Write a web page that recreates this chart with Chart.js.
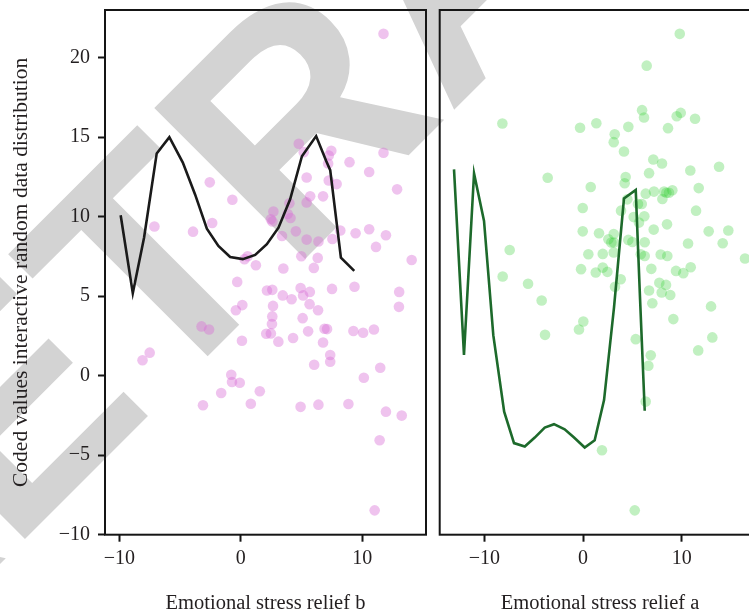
<!DOCTYPE html>
<html>
<head>
<meta charset="utf-8">
<script src="https://cdn.jsdelivr.net/npm/chart.js@4.4.0/dist/chart.umd.min.js"></script>
<style>
  html, body { margin: 0; padding: 0; background: #fff; }
  body { width: 749px; height: 616px; overflow: hidden; position: relative; }
  #wm { position: absolute; left: 0; top: 0; }
  #boxB { position: absolute; left: 0; top: 0; }
  #boxA { position: absolute; left: 434px; top: 0; }
</style>
</head>
<body>
<svg id="wm" width="749" height="616">
  <text x="-148" y="712" transform="rotate(-45 -148 712)" font-family="Liberation Sans, Arial, sans-serif" font-weight="bold" font-size="310" fill="#d3d3d3">RETRACTED</text>
</svg>
<div id="boxB"><canvas id="chartB" width="432" height="616"></canvas></div>
<div id="boxA"><canvas id="chartA" width="340" height="616"></canvas></div>
<script>
// 축 눈금
const yTicks = [-10, -5, 0, 5, 10, 15, 20];
const xTicks = [-10, 0, 10];

// panel b: 선
const lineBX = [-9.9, -8.9, -7.97, -6.93, -5.89, -4.78, -3.77, -2.8, -1.85, -0.88, 0.16, 1.18, 2.14, 3.1, 4.06, 5.03, 6.2, 7.03, 7.36, 8.24, 9.34];
const lineBY = [10.09, 5.19, 8.69, 13.98, 15.0, 13.4, 11.4, 9.25, 8.16, 7.47, 7.33, 7.6, 8.27, 9.31, 11.09, 13.8, 15.07, 13.5, 12.93, 7.43, 6.59];

// panel b: 점
const dotBX = [11.75, -7.12, -2.56, -3.94, -2.36, -0.7, 4.77, 5.18, 7.45, 7.24, 7.19, 8.95, 11.75, 10.57, 12.87,
  5.42, 7.89, 7.24, 5.71, 5.42, 6.77, 4.0, 2.68, 2.47, 2.6, 3.86, 4.09, 8.19, 9.45, 10.57, 11.95, 4.53, 3.39,
  5.42, 6.39, 7.54, 11.13, 14.07, 0.3, 0.56, 1.24, 3.5, 4.98, 6.33, 6.01, -0.3, 9.36, 7.51, 13.04, 2.15, 2.59,
  3.45, 4.18, 4.92, 5.13, 5.68, 5.66, 6.36, 2.65, 13.02, 0.12, -0.41, 2.59, 5.09, 2.56, -3.24, -2.62, 5.54,
  6.89, 7.1, 9.27, 10.07, 10.96, 2.09, 2.47, 0.09, 3.09, 4.3, 6.77, -8.1, -7.51, 7.36, 7.36, 6.04, 11.48,
  -0.79, -0.73, -0.09, 10.13, -1.62, 1.56, -3.12, 0.82, 4.92, 6.39, 8.86, 11.95, 13.25, 11.43, 11.02];
const dotBY = [21.5, 9.38, 12.16, 9.06, 9.6, 11.07, 14.59, 14.06, 14.15, 13.85, 13.35, 13.43, 14.02, 12.81, 11.72,
  12.47, 12.05, 12.28, 11.28, 10.9, 11.28, 10.84, 10.32, 9.84, 9.7, 10.17, 9.92, 9.13, 8.96, 9.21, 8.83, 9.08, 8.79,
  8.56, 8.44, 8.6, 8.1, 7.28, 7.33, 7.51, 6.95, 6.74, 7.51, 7.41, 6.78, 5.9, 5.59, 5.46, 5.27, 5.36, 5.4,
  5.05, 4.81, 5.52, 5.05, 5.27, 4.5, 4.12, 4.39, 4.33, 4.44, 4.12, 3.73, 3.62, 3.25, 3.1, 2.91, 2.79,
  2.95, 2.93, 2.81, 2.7, 2.91, 2.64, 2.66, 2.2, 2.14, 2.37, 2.09, 0.97, 1.45, 1.3, 0.88, 0.69, 0.5,
  0.06, -0.4, -0.44, -0.13, -1.09, -0.98, -1.86, -1.76, -1.96, -1.82, -1.78, -2.26, -2.51, -4.06, -8.47];

// panel a: 선
const lineAX = [-13.07, -12.06, -11.04, -10.03, -9.09, -7.99, -6.99, -5.9, -4.89, -3.88, -2.94, -1.86, -0.91, 0.17, 1.18, 2.13, 3.14, 4.15, 5.34, 5.78, 6.25];
const lineAY = [12.98, 1.3, 12.72, 9.73, 2.55, -2.26, -4.24, -4.45, -3.89, -3.26, -3.05, -3.37, -3.89, -4.52, -4.06, -1.53, 4.3, 11.14, 11.68, 4.8, -2.2];

// panel a: 점
const dotAX = [9.8, 6.45, 5.98, 6.18, 9.49, 9.9, 11.35, -8.17, -0.3, 1.35, 4.59, 8.61, 3.21, 3.11, 4.15, 7.12, 8.0,
  13.78, 10.87, 6.69, -3.58, 4.32, 4.22, 0.78, 11.72, 6.35, 7.19, 8.21, 8.44, 9.05, 8.71, 8.04, 4.49, 5.57, 5.95,
  -0.03, 3.85, 11.45, 5.13, 6.21, 5.67, 8.51, -0.03, 1.62, 7.16, 12.73, 14.72, 3.11, 2.57, 2.87, 3.14, 4.59, 5.0,
  6.25, 10.64, 14.15, 0.54, 2.0, 3.11, 5.85, 6.25, 7.87, 8.54, 16.41, -7.43, -8.14, -5.57, -4.19, -0.2, 1.29, 2.0,
  2.47, 6.92, 9.42, 10.16, 10.91, 3.24, 3.82, 7.73, 8.41, 7.97, 8.84, 6.69, 7.02, 12.97, 9.15, 13.1, 11.67, 0.03,
  -0.41, -3.85, 5.34, 6.86, 6.62, 6.35, 1.92, 5.24];
const dotAY = [21.5, 19.5, 16.7, 16.24, 16.32, 16.53, 16.16, 15.86, 15.59, 15.88, 15.65, 15.57, 15.19, 14.69, 14.1, 13.6, 13.35,
  13.14, 12.91, 12.74, 12.45, 12.49, 12.1, 11.87, 11.8, 11.45, 11.58, 11.58, 11.51, 11.66, 11.51, 11.11, 11.09, 10.8, 10.8,
  10.55, 10.38, 10.38, 9.98, 10.03, 9.63, 9.52, 9.08, 8.96, 9.19, 9.08, 9.13, 8.91, 8.58, 8.37, 8.37, 8.54, 8.41,
  8.39, 8.31, 8.33, 7.64, 7.66, 7.75, 7.64, 7.53, 7.62, 7.53, 7.37, 7.91, 6.24, 5.78, 4.73, 6.7, 6.49, 6.8,
  6.53, 6.72, 6.59, 6.45, 6.82, 5.59, 6.07, 5.84, 5.71, 5.23, 5.08, 5.36, 4.56, 4.36, 3.56, 2.41, 1.59, 3.41,
  2.91, 2.57, 2.3, 1.28, 0.63, -1.63, -4.69, -8.47];

const ink = '#151515';
const textColor = '#231f20';
const serif = 'Liberation Serif';

const toPoints = (xs, ys) => xs.map((x, i) => ({ x: x, y: ys[i] }));
const fmt = v => String(v).replace('-', '\u2212');

// 테두리
const framePlugin = {
    id: 'frame',
    afterDraw(chart) {
        const { ctx, chartArea: a } = chart;
        ctx.save();
        ctx.strokeStyle = ink;
        ctx.lineWidth = 2;
        ctx.strokeRect(a.left, a.top, a.right - a.left, a.bottom - a.top);
        ctx.restore();
    }
};

function xScale(min, max, title) {
    return {
        type: 'linear',
        min: min,
        max: max,
        afterBuildTicks: s => { s.ticks = xTicks.map(v => ({ value: v })); },
        afterFit: s => { s.height = 81.3; s.paddingLeft = 0; s.paddingRight = 0; },
        grid: { drawOnChartArea: false, drawTicks: true, tickLength: 7, tickWidth: 2, tickColor: ink },
        border: { display: false },
        ticks: { color: textColor, font: { family: serif, size: 20 }, padding: 5, maxRotation: 0, callback: v => fmt(v) },
        title: { display: true, text: title, color: textColor, font: { family: serif, size: 20.5 }, padding: { top: 0, bottom: 0 } }
    };
}

function makeChart(canvasId, lineX, lineY, lineColor, dotX, dotY, dotColor, xmin, xmax, xTitle, showY, padLeft, padRight) {
    const ctx = document.getElementById(canvasId);
    const config = {
        type: 'scatter',
        data: {
            datasets: [
                {
                    data: toPoints(lineX, lineY),
                    showLine: true,
                    fill: false,
                    borderColor: lineColor,
                    borderWidth: 2.6,
                    pointRadius: 0,
                    tension: 0
                },
                {
                    data: toPoints(dotX, dotY),
                    backgroundColor: dotColor,
                    borderWidth: 0,
                    pointRadius: 5.3
                }
            ]
        },
        options: {
            responsive: false,
            animation: false,
            layout: { padding: { left: padLeft, right: padRight, top: 10, bottom: 0 } },
            plugins: { legend: { display: false }, tooltip: { enabled: false } },
            scales: {
                x: xScale(xmin, xmax, xTitle),
                y: {
                    type: 'linear',
                    display: showY,
                    min: -10,
                    max: 23.0,
                    afterBuildTicks: s => { s.ticks = yTicks.map(v => ({ value: v })); },
                    afterFit: s => {
                        if (showY) s.width = 105;
                        s.paddingTop = 0;
                        s.paddingBottom = 0;
                    },
                    grid: { drawOnChartArea: false, drawTicks: true, tickLength: 7, tickWidth: 2, tickColor: ink },
                    border: { display: false },
                    ticks: { color: textColor, font: { family: serif, size: 20 }, padding: 8, callback: v => fmt(v) },
                    title: { display: true, text: 'Coded values interactive random data distribution', color: textColor, font: { family: serif, size: 21.5 }, padding: { top: 8, bottom: 0 } }
                }
            }
        },
        plugins: [framePlugin]
    };
    return new Chart(ctx, config);
}

makeChart('chartB', lineBX, lineBY, '#1a1a1a', dotBX, dotBY, 'rgba(218, 112, 214, 0.42)', -11.19, 15.25, 'Emotional stress relief b', true, 0, 6);
makeChart('chartA', lineAX, lineAY, '#1d6a2b', dotAX, dotAY, 'rgba(50, 205, 50, 0.3)', -14.52, 17.97, 'Emotional stress relief a', false, 5.7, 13.6);
</script>
</body>
</html>
